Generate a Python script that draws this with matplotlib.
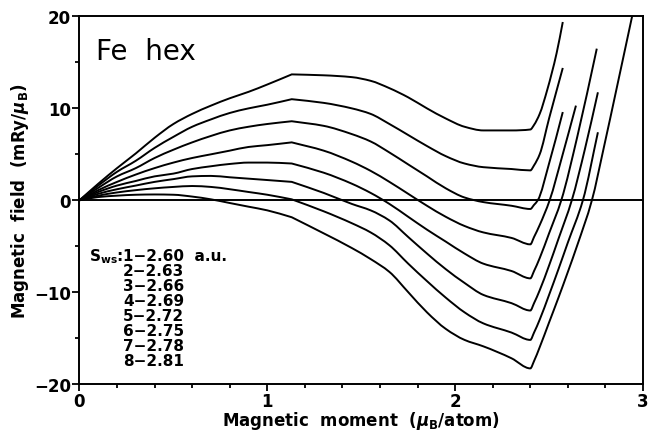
import numpy as np
import matplotlib
matplotlib.use("Agg")
from matplotlib import pyplot as plt
from matplotlib.ticker import MultipleLocator
from matplotlib.path import Path
from matplotlib.patches import PathPatch

# magnetic moment grid (mu_B/atom) shared by all curves up to the minimum
m_main = [0, 0.1, 0.2, 0.3, 0.4, 0.5, 0.6, 0.7, 0.8, 0.9, 1.0, 1.13,
          1.3, 1.45, 1.55, 1.65, 1.75, 1.85, 1.95, 2.05, 2.15, 2.3, 2.4]

# magnetic field (mRy/mu_B), one list per S_ws
h1 = [0, 1.8, 3.5, 5.1, 6.8, 8.3, 9.4, 10.3, 11.1, 11.8, 12.6, 13.7,
      13.6, 13.4, 13.0, 12.2, 11.2, 10.0, 8.9, 8.0, 7.6, 7.6, 7.7]
h2 = [0, 1.6, 3.1, 4.3, 5.7, 6.9, 8.0, 8.8, 9.5, 10.0, 10.4, 11.0,
      10.6, 10.0, 9.4, 8.3, 7.1, 5.9, 4.8, 4.0, 3.6, 3.4, 3.25]
h3 = [0, 1.35, 2.6, 3.5, 4.6, 5.5, 6.3, 7.0, 7.6, 8.0, 8.3, 8.6,
      8.1, 7.2, 6.4, 5.2, 3.9, 2.6, 1.3, 0.3, -0.2, -0.6, -0.95]
h4 = [0, 1.1, 2.0, 2.8, 3.5, 4.1, 4.6, 5.0, 5.4, 5.8, 6.0, 6.3,
      5.4, 4.2, 3.2, 2.0, 0.7, -0.6, -1.8, -2.8, -3.5, -4.1, -4.8]
h5 = [0, 0.9, 1.6, 2.1, 2.6, 2.9, 3.4, 3.7, 3.95, 4.1, 4.1, 4.0,
      3.0, 1.8, 0.8, -0.4, -1.8, -3.2, -4.5, -5.8, -6.9, -7.7, -8.5]
h6 = [0, 0.7, 1.2, 1.6, 2.0, 2.3, 2.6, 2.65, 2.5, 2.35, 2.2, 2.0,
      0.8, -0.4, -1.1, -2.2, -4.0, -5.8, -7.5, -9.0, -10.3, -11.2, -12.0]
h7 = [0, 0.5, 0.85, 1.1, 1.3, 1.45, 1.55, 1.45, 1.2, 0.9, 0.6, 0.1,
      -1.2, -2.5, -3.5, -4.9, -6.9, -8.8, -10.6, -12.2, -13.4, -14.4, -15.2]
h8 = [0, 0.35, 0.5, 0.6, 0.63, 0.6, 0.4, 0.1, -0.3, -0.7, -1.1, -1.85,
      -3.6, -5.2, -6.4, -7.8, -10.0, -12.2, -14.0, -15.2, -15.9, -17.2, -18.3]

# steep branches after the minimum
mr1 = [2.42, 2.45, 2.49, 2.54, 2.573]
hr1 = [8.2, 9.4, 12.0, 16.0, 19.4]
mr2 = [2.42, 2.45, 2.50, 2.573]
hr2 = [3.8, 5.0, 8.9, 14.4]
mr3 = [2.42, 2.44, 2.50, 2.573]
hr3 = [-0.5, 0.0, 4.0, 9.6]
mr4 = [2.42, 2.45, 2.503, 2.57, 2.643]
hr4 = [-4.0, -2.7, 0.0, 4.8, 10.3]
mr5 = [2.42, 2.45, 2.50, 2.565, 2.65, 2.754]
hr5 = [-7.7, -6.3, -3.6, 0.0, 6.9, 16.5]
mr6 = [2.42, 2.45, 2.50, 2.55, 2.621, 2.69, 2.76]
hr6 = [-11.2, -9.8, -7.1, -4.2, 0.0, 5.5, 11.75]
mr7 = [2.42, 2.45, 2.50, 2.55, 2.60, 2.68, 2.76]
hr7 = [-14.4, -13.0, -10.3, -7.5, -4.6, 0.0, 7.4]
mr8 = [2.42, 2.45, 2.50, 2.55, 2.60, 2.65, 2.728, 2.79, 2.86, 2.945]
hr8 = [-17.5, -16.0, -13.3, -10.6, -7.8, -4.9, 0.0, 5.6, 12.2, 20.3]

swz = ["2.60", "2.63", "2.66", "2.69", "2.72", "2.75", "2.78", "2.81"]

curves = [(h1, mr1, hr1), (h2, mr2, hr2), (h3, mr3, hr3), (h4, mr4, hr4),
          (h5, mr5, hr5), (h6, mr6, hr6), (h7, mr7, hr7), (h8, mr8, hr8)]

KINK = 1.13   # curves have a corner here


def smooth_path(xs, ys, kink):
    # monotone cubic (pchip-style) bezier through every point, corner at kink
    x = np.asarray(xs, float)
    y = np.asarray(ys, float)
    n = len(x)
    hx = np.diff(x)
    d = np.diff(y) / hx
    ml = np.zeros(n)
    mr = np.zeros(n)
    for i in range(n):
        if i == 0:
            ml[i] = mr[i] = d[0]
        elif i == n - 1:
            ml[i] = mr[i] = d[-1]
        elif abs(x[i] - kink) < 1e-9:
            ml[i] = d[i - 1]
            mr[i] = d[i]
        elif d[i - 1] * d[i] <= 0:
            ml[i] = mr[i] = 0.0
        else:
            w1 = 2 * hx[i] + hx[i - 1]
            w2 = hx[i] + 2 * hx[i - 1]
            ml[i] = mr[i] = (w1 + w2) / (w1 / d[i - 1] + w2 / d[i])
    verts = [(x[0], y[0])]
    codes = [Path.MOVETO]
    for i in range(n - 1):
        dx = hx[i] / 3.0
        verts += [(x[i] + dx, y[i] + dx * mr[i]),
                  (x[i + 1] - dx, y[i + 1] - dx * ml[i + 1]),
                  (x[i + 1], y[i + 1])]
        codes += [Path.CURVE4] * 3
    return Path(verts, codes)


plt.rcParams['font.family'] = ['DejaVu Sans']
plt.rcParams['font.weight'] = 'bold'
plt.rcParams['mathtext.default'] = 'regular'

fig = plt.figure(figsize=(6.51, 4.31), dpi=100)
ax = fig.add_axes([0.1221, 0.1067, 0.8656, 0.8527])

for h, mr, hr in curves:
    p = smooth_path(m_main + mr, h + hr, KINK)
    ax.add_patch(PathPatch(p, fill=False, ec='black', lw=1.4,
                           transform=ax.transData))

ax.axhline(0, color='black', lw=1.4)

ax.set_xlim(0, 3)
ax.set_ylim(-20, 20)
ax.xaxis.set_major_locator(MultipleLocator(1))
ax.xaxis.set_minor_locator(MultipleLocator(0.2))
ax.yaxis.set_major_locator(MultipleLocator(10))
ax.yaxis.set_minor_locator(MultipleLocator(5))
ax.tick_params(which='both', direction='out', width=1.3, labelsize=12)
ax.tick_params(which='major', length=5, pad=1)
ax.tick_params(which='minor', length=3)
for s in ax.spines.values():
    s.set_linewidth(1.4)

ax.set_xlabel(r'Magnetic  moment  ($\mathit{\mu}_{B}$/atom)', fontsize=12,
              fontweight='bold', labelpad=-1)
ax.set_ylabel(r'Magnetic  field  (mRy/$\mathit{\mu}_{B}$)', fontsize=12,
              fontweight='bold', labelpad=2)

ax.text(0.03, 0.905, 'Fe  hex', transform=ax.transAxes, fontsize=20,
        fontweight='normal', va='center', ha='left')

# S_ws legend block
y0 = 0.349
ax.text(0.0775, y0, r'S$_{ws}$:', transform=ax.transAxes, fontsize=11,
        fontweight='bold', ha='right', va='center')
for i, s in enumerate(swz):
    lab = f'{i + 1}\u2212{s}'
    if i == 0:
        lab += '  a.u.'
    ax.text(0.0775, y0 - i * 0.0408, lab, transform=ax.transAxes, fontsize=11,
            fontweight='bold', ha='left', va='center')

fig.savefig('out.png', dpi=100)
